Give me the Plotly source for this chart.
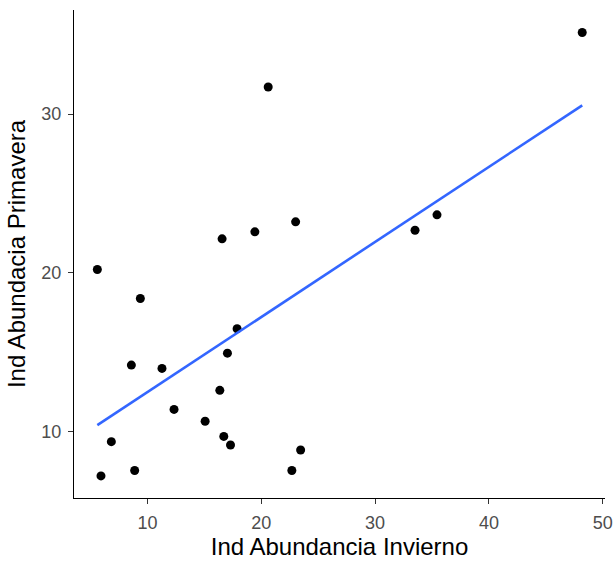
import numpy as np
import plotly.graph_objects as go

# Abundance index per site: winter (x) vs spring (y)
invierno = [20.61, 16.56, 19.44, 23.02, 5.60, 48.20, 33.51, 35.44,
            9.38, 8.59, 11.28, 17.88, 17.03, 16.36, 12.34, 15.07,
            16.71, 17.30, 6.83, 5.92, 8.88, 22.69, 23.46]
primavera = [31.70, 22.14, 22.58, 23.21, 20.21, 35.13, 22.68, 23.65,
             18.38, 14.19, 13.98, 16.48, 14.94, 12.60, 11.40, 10.65,
             9.70, 9.16, 9.37, 7.21, 7.55, 7.55, 8.84]

x_ticks = [10, 20, 30, 40, 50]
y_ticks = [10, 20, 30]
x_limits = [3.55, 50.2]
y_limits = [5.82, 36.55]

x = np.array(invierno)
y = np.array(primavera)

# Least-squares line over the observed winter range
slope, intercept = np.polyfit(x, y, 1)
fit_x = np.linspace(x.min(), x.max(), 80)
fit_y = intercept + slope * fit_x

fig = go.Figure()
fig.add_trace(go.Scatter(
    x=x, y=y, mode="markers",
    marker=dict(color="black", size=9),
    showlegend=False, hoverinfo="x+y",
))
fig.add_trace(go.Scatter(
    x=fit_x, y=fit_y, mode="lines",
    line=dict(color="#3366FF", width=2.6),
    showlegend=False, hoverinfo="skip",
))

axis_common = dict(
    showgrid=False, zeroline=False, automargin=False,
    showline=True, linecolor="black", linewidth=1.3,
    ticks="outside", ticklen=5, tickwidth=1.3, tickcolor="#333333",
    ticklabelstandoff=3,
    tickfont=dict(family="Liberation Sans, Arial, sans-serif", size=18, color="#4D4D4D"),
)

fig.update_layout(
    width=614, height=563,
    margin=dict(l=74, r=9, t=10, b=65),
    paper_bgcolor="white", plot_bgcolor="white",
    font=dict(family="Liberation Sans, Arial, sans-serif"),
    xaxis=dict(
        range=x_limits, tickvals=x_ticks,
        title=dict(text="Ind Abundancia Invierno", standoff=3,
                   font=dict(size=24, color="black")),
        **axis_common,
    ),
    yaxis=dict(
        range=y_limits, tickvals=y_ticks,
        title=dict(text="Ind Abundacia Primavera", standoff=8,
                   font=dict(size=24, color="black")),
        **axis_common,
    ),
)

fig.write_html("out.html")
